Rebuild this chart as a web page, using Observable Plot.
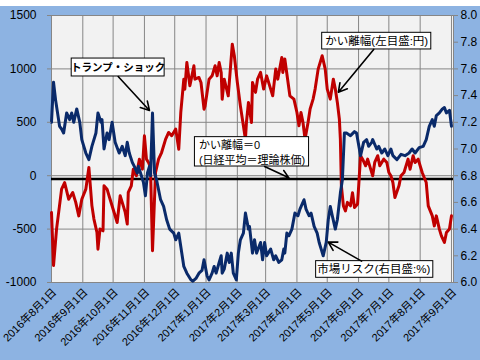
<!DOCTYPE html>
<html><head><meta charset="utf-8">
<script src="https://cdn.jsdelivr.net/npm/d3@7"></script>
<script src="https://cdn.jsdelivr.net/npm/@observablehq/plot@0.6"></script>
<style>
body{margin:0;background:#fff;}
#chart{position:absolute;left:0;top:6px;width:480px;height:354px;background:#8db3e2;overflow:hidden;}
#chart svg{display:block;}
</style></head><body><div id="chart"></div>
<script>
// かい離幅 (left axis, 円)
const gapDates = ["2016-08-01","2016-08-03","2016-08-06","2016-08-11","2016-08-14","2016-08-18","2016-08-22","2016-08-25","2016-08-28","2016-08-31",
"2016-09-04","2016-09-07","2016-09-10","2016-09-12","2016-09-15","2016-09-16","2016-09-18","2016-09-21","2016-09-22","2016-09-25","2016-09-28",
"2016-10-02","2016-10-05","2016-10-08","2016-10-11","2016-10-13","2016-10-15","2016-10-16","2016-10-19","2016-10-21","2016-10-24","2016-10-27","2016-10-30",
"2016-11-01","2016-11-03","2016-11-05","2016-11-07","2016-11-09","2016-11-12","2016-11-15","2016-11-18","2016-11-22","2016-11-25","2016-11-28",
"2016-12-02","2016-12-05","2016-12-07","2016-12-10","2016-12-11","2016-12-13","2016-12-16","2016-12-18","2016-12-20","2016-12-21","2016-12-25","2016-12-27","2016-12-30","2016-12-31",
"2017-01-04","2017-01-07","2017-01-10","2017-01-12","2017-01-14","2017-01-16","2017-01-17","2017-01-19","2017-01-23","2017-01-27","2017-01-29",
"2017-02-01","2017-02-04","2017-02-09","2017-02-10","2017-02-12","2017-02-15","2017-02-16","2017-02-19","2017-02-21","2017-02-24","2017-02-27",
"2017-03-02","2017-03-06","2017-03-08","2017-03-11","2017-03-13","2017-03-17","2017-03-18","2017-03-20","2017-03-25","2017-03-29",
"2017-04-01","2017-04-03","2017-04-05","2017-04-07","2017-04-09","2017-04-12","2017-04-14","2017-04-17","2017-04-19","2017-04-22","2017-04-26","2017-04-29",
"2017-05-01","2017-05-04","2017-05-07","2017-05-09","2017-05-11","2017-05-13","2017-05-14","2017-05-15","2017-05-17","2017-05-19","2017-05-21","2017-05-24","2017-05-26","2017-05-28","2017-05-31",
"2017-06-03","2017-06-05","2017-06-08","2017-06-10","2017-06-13","2017-06-15","2017-06-17","2017-06-20","2017-06-22","2017-06-26","2017-06-29",
"2017-07-01","2017-07-03","2017-07-05","2017-07-07","2017-07-11","2017-07-13","2017-07-16","2017-07-20","2017-07-22","2017-07-25","2017-07-27","2017-07-30",
"2017-08-03","2017-08-07","2017-08-09","2017-08-13","2017-08-15","2017-08-17","2017-08-20","2017-08-22","2017-08-25","2017-08-27","2017-08-30","2017-09-01"];
const gapValues = [-344,-841,-500,-126,-64,-220,-157,-250,-376,-220,
-126,77,-280,-406,-532,-688,-500,-516,-95,-126,-220,
-344,-438,-188,-280,-344,-453,-157,-95,61,0,155,61,
374,155,124,80,-703,30,155,217,342,405,374,
436,248,592,904,810,1060,842,935,1029,904,920,873,623,650,
904,935,1029,935,1060,967,716,904,748,1231,1123,
873,654,342,498,686,498,873,780,904,967,811,
935,811,748,998,904,1107,967,1092,748,717,
592,467,592,498,342,498,623,717,811,998,1123,998,
811,717,904,811,686,530,342,-95,-282,-329,-250,-282,-160,-298,-266,
187,155,93,155,61,0,124,187,93,155,124,
30,0,-64,-204,-95,0,30,155,61,187,124,155,
30,-64,-282,-376,-470,-376,-500,-563,-625,-532,-500,-376];

// 市場リスク (right axis, %)
const riskDates = ["2016-08-01","2016-08-03","2016-08-05","2016-08-09","2016-08-11","2016-08-13","2016-08-16","2016-08-19","2016-08-21","2016-08-23","2016-08-26","2016-08-29","2016-08-31",
"2016-09-04","2016-09-07","2016-09-10","2016-09-14","2016-09-16","2016-09-19","2016-09-20","2016-09-22","2016-09-25","2016-09-27","2016-09-30",
"2016-10-03","2016-10-07","2016-10-10","2016-10-13","2016-10-15","2016-10-17","2016-10-20","2016-10-22","2016-10-25","2016-10-26","2016-10-29","2016-10-31",
"2016-11-02","2016-11-04","2016-11-06","2016-11-07","2016-11-09","2016-11-11","2016-11-13","2016-11-17","2016-11-20","2016-11-23","2016-11-26","2016-11-30",
"2016-12-02","2016-12-05","2016-12-07","2016-12-10","2016-12-13","2016-12-17","2016-12-19","2016-12-22","2016-12-25","2016-12-28","2016-12-30",
"2017-01-02","2017-01-04","2017-01-07","2017-01-09","2017-01-11","2017-01-14","2017-01-16","2017-01-17","2017-01-19","2017-01-22","2017-01-24","2017-01-26","2017-01-28","2017-01-31",
"2017-02-02","2017-02-04","2017-02-07","2017-02-09","2017-02-12","2017-02-13","2017-02-16","2017-02-18","2017-02-20","2017-02-24","2017-02-26","2017-02-28",
"2017-03-02","2017-03-06","2017-03-09","2017-03-11","2017-03-14","2017-03-17","2017-03-19","2017-03-20","2017-03-22","2017-03-24","2017-03-27","2017-03-30",
"2017-04-02","2017-04-04","2017-04-08","2017-04-10","2017-04-13","2017-04-15","2017-04-18","2017-04-21","2017-04-23","2017-04-25","2017-04-27","2017-04-30",
"2017-05-02","2017-05-04","2017-05-06","2017-05-09","2017-05-11","2017-05-14","2017-05-16","2017-05-18","2017-05-20","2017-05-24","2017-05-28","2017-05-30",
"2017-06-03","2017-06-06","2017-06-09","2017-06-11","2017-06-14","2017-06-15","2017-06-19","2017-06-21","2017-06-24","2017-06-27","2017-06-30",
"2017-07-03","2017-07-05","2017-07-09","2017-07-13","2017-07-17","2017-07-21","2017-07-24","2017-07-27","2017-07-31",
"2017-08-04","2017-08-07","2017-08-10","2017-08-13","2017-08-15","2017-08-17","2017-08-20","2017-08-23","2017-08-25","2017-08-27","2017-08-30","2017-09-01"];
const riskValues = [7.20,7.50,7.37,7.17,7.15,7.12,7.27,7.22,7.27,7.20,7.30,7.20,7.07,
6.97,6.92,7.02,7.12,7.27,7.20,7.22,7.00,7.12,7.07,7.20,
7.05,6.97,7.02,6.95,7.05,6.97,6.90,6.87,6.82,6.87,6.80,6.75,
6.65,6.82,6.87,6.80,7.27,6.82,6.77,6.62,6.57,6.47,6.40,6.37,
6.32,6.37,6.27,6.12,6.07,6.02,6.01,6.03,6.07,6.09,6.17,
6.05,6.02,6.07,6.12,6.07,6.15,6.20,6.07,6.10,6.22,6.15,6.22,6.07,6.02,
6.22,6.32,6.37,6.52,6.40,6.42,6.22,6.32,6.22,6.30,6.17,6.30,
6.20,6.25,6.17,6.20,6.15,6.17,6.25,6.22,6.37,6.35,6.40,6.52,
6.50,6.55,6.62,6.55,6.50,6.52,6.42,6.37,6.30,6.25,6.20,6.30,
6.47,6.57,6.50,6.40,6.47,6.67,6.77,7.12,7.12,7.10,7.13,7.12,
6.95,7.05,7.07,7.02,7.05,7.07,7.00,7.02,6.97,7.00,6.95,
7.00,6.95,6.92,6.96,6.95,6.97,7.00,6.97,7.01,
7.02,7.07,7.17,7.22,7.17,7.25,7.27,7.30,7.31,7.27,7.29,7.17];

// axes / ticks
const monthTicks = ["2016-08-01","2016-09-01","2016-10-01","2016-11-01","2016-12-01","2017-01-01","2017-02-01","2017-03-01","2017-04-01","2017-05-01","2017-06-01","2017-07-01","2017-08-01","2017-09-01"];
const monthLabels = ["2016年8月1日","2016年9月1日","2016年10月1日","2016年11月1日","2016年12月1日","2017年1月1日","2017年2月1日","2017年3月1日","2017年4月1日","2017年5月1日","2017年6月1日","2017年7月1日","2017年8月1日","2017年9月1日"];
const leftTicks = [-1000,-500,0,500,1000,1500];
const rightTicks = [6.0,6.2,6.4,6.6,6.8,7.0,7.2,7.4,7.6,7.8,8.0];
const baselineValue = -30; // black "かい離幅=0" line as drawn

const parse = d3.utcParse("%Y-%m-%d");
const toLeft = d3.scaleLinear().domain([6, 8]).range([-1000, 1500]);
const gap = gapDates.map((d, i) => ({date: parse(d), v: gapValues[i]}));
const risk = riskDates.map((d, i) => ({date: parse(d), v: toLeft(riskValues[i])}));
const monthDates = monthTicks.map(parse);
const labelOf = new Map(monthTicks.map((d, i) => [+parse(d), monthLabels[i]]));

// annotations (data coordinates)
const boxes = [
  {x1: "2016-08-21", x2: "2016-11-21", y1: 929, y2: 1097},
  {x1: "2017-04-26", x2: "2017-08-12", y1: 1182, y2: 1338},
  {x1: "2016-12-21", x2: "2017-04-13", y1: 86, y2: 361},
  {x1: "2017-04-20", x2: "2017-08-14", y1: -956, y2: -800}
].map(b => ({...b, x1: parse(b.x1), x2: parse(b.x2)}));
const arrows = [
  {x1: "2016-10-06", y1: 929, x2: "2016-11-06", y2: 611},
  {x1: "2017-06-16", y1: 1182, x2: "2017-05-12", y2: 782},
  {x1: "2017-02-28", y1: 86, x2: "2017-03-24", y2: -20},
  {x1: "2017-06-04", y1: -800, x2: "2017-05-02", y2: -622}
].map(a => ({...a, x1: parse(a.x1), x2: parse(a.x2)}));

const grid = "#868686";
const font = "'Liberation Sans','Noto Sans CJK JP',sans-serif";

const chart = Plot.plot({
  width: 480, height: 354,
  marginTop: 9, marginBottom: 78, marginLeft: 51, marginRight: 27,
  style: {background: "transparent", fontFamily: font, fontSize: "12px", color: "#000"},
  x: {type: "utc", domain: [parse("2016-08-01"), parse("2017-09-03")]},
  y: {domain: [-1000, 1500]},
  marks: [
    Plot.frame({fill: "#f2f2f2", stroke: "none"}),
    Plot.ruleX(monthDates, {stroke: grid, strokeWidth: 1}),
    Plot.ruleY(leftTicks, {stroke: grid, strokeWidth: 1}),
    Plot.frame({stroke: grid, strokeWidth: 1}),
    Plot.ruleY([baselineValue], {stroke: "#000", strokeWidth: 2.5}),
    Plot.lineY(gap, {x: "date", y: "v", stroke: "#c00000", strokeWidth: 3}),
    Plot.lineY(risk, {x: "date", y: "v", stroke: "#0a2a6a", strokeWidth: 3}),
    Plot.axisY(leftTicks, {anchor: "left", tickSize: 4, tickPadding: 11, stroke: grid, fontSize: 12, label: null,
      tickFormat: d => String(d)}),
    Plot.axisY(rightTicks.map(toLeft), {anchor: "right", tickSize: 4, tickPadding: 3, stroke: grid, fontSize: 12, label: null,
      tickFormat: d => toLeft.invert(d).toFixed(1)}),
    Plot.axisX(monthDates, {anchor: "bottom", tickSize: 0, tickPadding: 8, dx: 3, tickRotate: -45, fontSize: 11, label: null,
      tickFormat: d => labelOf.get(+d)}),
    Plot.rect(boxes, {x1: "x1", x2: "x2", y1: "y1", y2: "y2", fill: "#fff", stroke: "#000", strokeWidth: 1}),
    Plot.arrow(arrows, {x1: "x1", y1: "y1", x2: "x2", y2: "y2", stroke: "#000", strokeWidth: 1.6, headLength: 9}),
    Plot.text(["トランプ・ショック"], {x: parse("2016-10-06"), y: 1013, fontSize: 10.5, fontWeight: "bold", fill: "#000"}),
    Plot.text(["かい離幅(左目盛:円)"], {x: parse("2017-06-19"), y: 1259, fontSize: 11.5, fill: "#000"}),
    Plot.text(["かい離幅＝0\n(日経平均＝理論株価)"], {x: parse("2016-12-21"), y: 223, dx: 4, textAnchor: "start", lineHeight: 1.3, fontSize: 11, fill: "#000"}),
    Plot.text(["市場リスク(右目盛:%)"], {x: parse("2017-06-16"), y: -878, fontSize: 11.5, fill: "#000"})
  ]
});
document.getElementById("chart").appendChild(chart);
</script>
</body></html>
